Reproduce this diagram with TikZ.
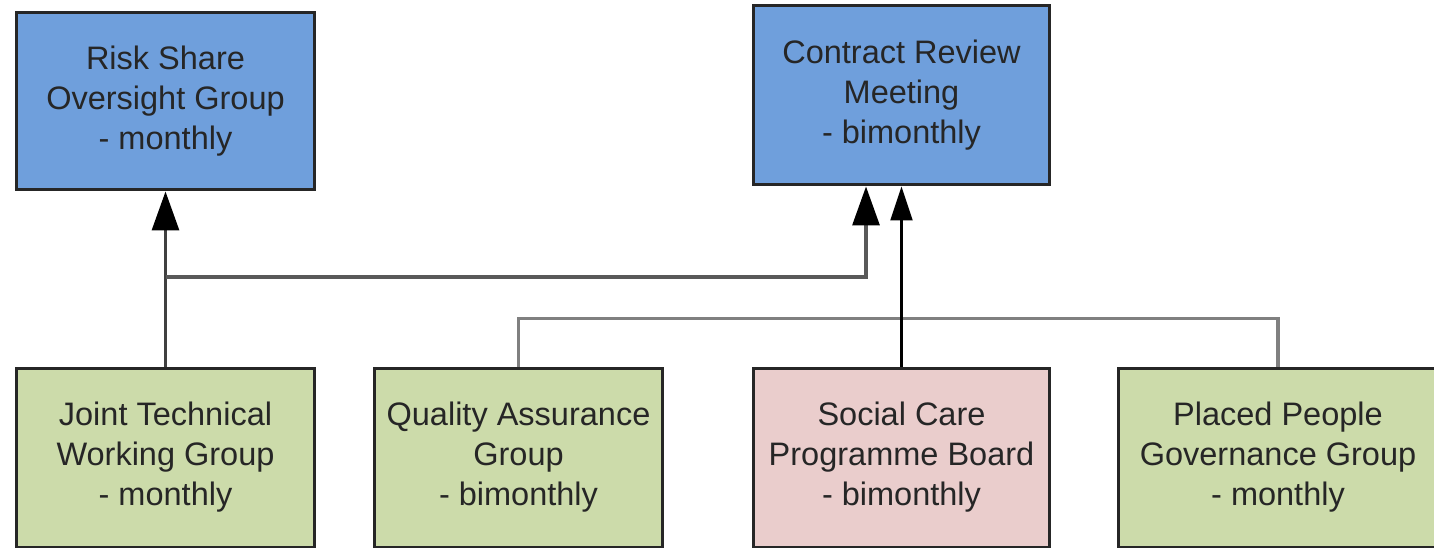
\documentclass[tikz,border=0pt]{standalone}
\usepackage{fontspec}
\setmainfont{Liberation Sans}
\usetikzlibrary{arrows.meta}

\definecolor{boardblue}{RGB}{111,159,220}
\definecolor{groupgreen}{RGB}{204,219,170}
\definecolor{carepink}{RGB}{234,205,204}

\begin{document}
\begin{tikzpicture}[x=0.02cm,y=-0.02cm]
\useasboundingbox (0,0) rectangle (1434,549);
\begin{scope}[every node/.style={rectangle,draw=black!85,line width=1.7pt,text=black!85,
              align=center,inner sep=0pt,font=\fontsize{18.5}{22.8}\selectfont}]
    \node[fill=boardblue,minimum width=5.98cm,minimum height=3.56cm] (RS) at (165.5,101) {Risk Share\\Oversight Group\\- monthly};
    \node[fill=boardblue,minimum width=5.94cm,minimum height=3.6cm] (CR) at (901.5,95) {Contract Review\\Meeting\\- bimonthly};
    \node[fill=groupgreen,minimum width=5.98cm,minimum height=3.58cm] (JT) at (165.5,457.5) {Joint Technical\\Working Group\\- monthly};
    \node[fill=groupgreen,minimum width=5.78cm,minimum height=3.58cm] (QA) at (518.5,457.5) {Quality Assurance\\Group\\- bimonthly};
    \node[fill=carepink,minimum width=5.94cm,minimum height=3.58cm] (SC) at (901.5,457.5) {Social Care\\Programme Board\\- bimonthly};
    \node[fill=groupgreen,minimum width=6.4cm,minimum height=3.58cm] (PP) at (1278,457.5) {Placed People\\Governance Group\\- monthly};
\end{scope}

\begin{scope}[>={Triangle[black,width=0.54cm,length=0.78cm]},
              every path/.style={draw=black!65,line width=1.8pt}]
    \draw [->,draw=black!75] (JT.north) -- (RS.south);
    \draw [->] (JT.north |- 0,277) -| ([xshift=-0.71cm]CR.south);
    \draw [draw=black!50] (QA.north) -- ++(0,-48) -| (PP.north);
    \draw [->,>={Triangle[width=0.44cm,length=0.68cm]},draw=black,line width=1.3pt] (SC.north) -- (CR.south);
\end{scope}
\end{tikzpicture}
\end{document}
